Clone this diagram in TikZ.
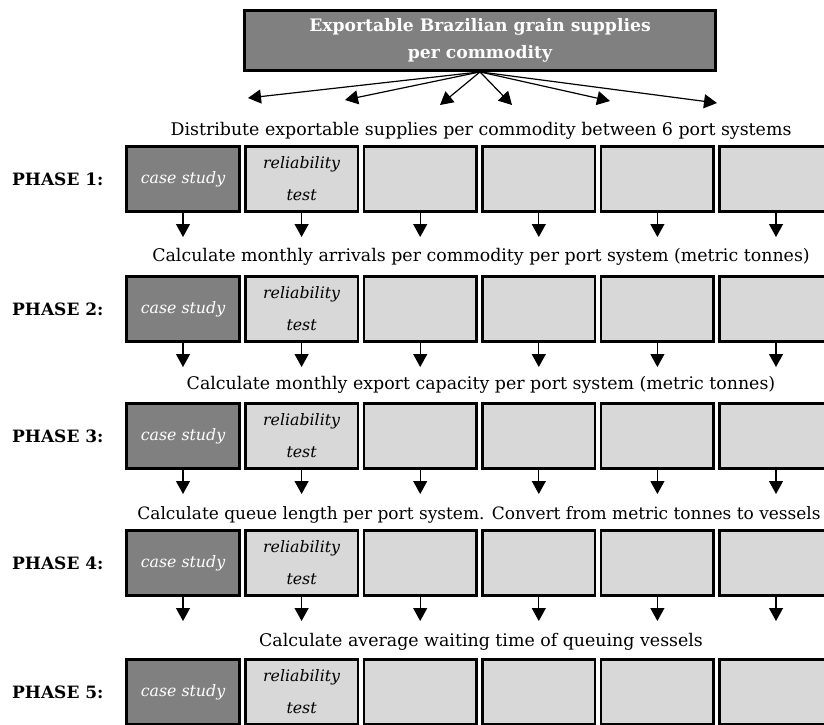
\documentclass[tikz,border=0pt]{standalone}
\usepackage{fontspec}
\setmainfont{DejaVu Serif}
\usetikzlibrary{arrows.meta}

\definecolor{darkcell}{HTML}{808080}
\definecolor{lightcell}{HTML}{D8D8D8}

\begin{document}
\begin{tikzpicture}[x=1pt,y=-1pt,
    cell/.style={draw=black,line width=2.6pt,minimum width=112.5pt,minimum height=65.4pt,
        inner sep=0pt,align=center,font=\fontsize{15.8}{32}\selectfont\itshape},
    casecell/.style={cell,fill=darkcell,text=white},
    portcell/.style={cell,fill=lightcell},
    topbox/.style={draw=black,line width=2.8pt,fill=darkcell,text=white,minimum width=471pt,
        minimum height=60pt,align=center,font=\fontsize{17.2}{27}\selectfont\bfseries},
    phase/.style={anchor=west,inner sep=0pt,font=\fontsize{17}{20}\selectfont\bfseries},
    task/.style={inner sep=0pt,font=\fontsize{17.4}{20}\selectfont},
    arr/.style={-{Triangle[length=13pt,width=14pt]},line width=1.2pt}]

    \clip (0,0) rectangle (824,724);

    % exportable supplies
    \node[topbox] (supply) at (480,40.5) {Exportable Brazilian grain supplies\\per commodity};
    \foreach \i/\x/\y in {1/248/98,2/345/100,3/440/105,4/512/105,5/610/101,6/717/103}
        \coordinate (f\i) at (\x,\y);
    \foreach \i in {1,...,6}
        \draw[arr] (supply.south) -- (f\i);

    % tasks between phases
    \node[task] (task1) at (481,131) {Distribute exportable supplies per commodity between 6 port systems};
    \node[task] (task2) at (481,257) {Calculate monthly arrivals per commodity per port system (metric tonnes)};
    \node[task] (task3) at (481,385) {Calculate monthly export capacity per port system (metric tonnes)};
    \node[task,font=\fontsize{17}{20}\selectfont] (task4) at (479,515) {Calculate queue length per port system. Convert from metric tonnes to vessels};
    \node[task] (task5) at (481,642) {Calculate average waiting time of queuing vessels};

    % phases
    \foreach \r/\y in {1/179,2/309,3/436,4/563,5/692}{
        \node[phase] (ph\r) at (12,\y) {PHASE \r:};
        \node[casecell] (r\r-1) at (183,\y) {case study};
        \node[portcell] (r\r-2) at (301.6,\y) {reliability\\test};
        \foreach \c in {3,...,6}
            \node[portcell] (r\r-\c) at ({183+(\c-1)*118.6},\y) {};
    }

    % arrows down
    \foreach \r in {1,...,4}
        \foreach \c in {1,...,6}{
            \coordinate (t\r-\c) at ([yshift=-24pt]r\r-\c.south);
            \draw[arr] (r\r-\c.south) -- (t\r-\c);
        }

\end{tikzpicture}
\end{document}
